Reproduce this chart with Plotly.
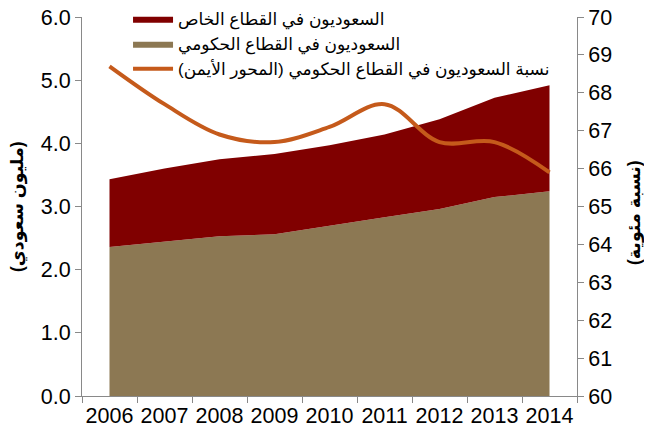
import plotly.graph_objects as go

years = ["2006", "2007", "2008", "2009", "2010", "2011", "2012", "2013", "2014"]
government = [2.36, 2.45, 2.53, 2.56, 2.70, 2.83, 2.96, 3.15, 3.24]
private = [1.07, 1.15, 1.22, 1.27, 1.27, 1.31, 1.42, 1.57, 1.68]
gov_share = [68.7, 67.7, 66.9, 66.7, 67.1, 67.7, 66.7, 66.7, 65.9]

RLM = "\u200f"
name_private = "السعوديون في القطاع الخاص"
name_gov = "السعوديون في القطاع الحكومي"
name_share = RLM + "نسبة السعوديون في القطاع الحكومي (المحور الأيمن)" + RLM
title_left = RLM + "(مليون سعودي)" + RLM
title_right = RLM + "(نسبة مئوية)" + RLM

FONT = "Liberation Sans, Arial, DejaVu Sans, sans-serif"

fig = go.Figure()
fig.add_trace(go.Scatter(
    x=years, y=government, name=name_gov, mode="lines",
    stackgroup="s", line=dict(width=0, color="#8C7853"),
    fillcolor="#8C7853", legendrank=2,
))
fig.add_trace(go.Scatter(
    x=years, y=private, name=name_private, mode="lines",
    stackgroup="s", line=dict(width=0, color="#800000"),
    fillcolor="#800000", legendrank=1,
))
fig.add_trace(go.Scatter(
    x=years, y=gov_share, name=name_share, mode="lines", yaxis="y2",
    line=dict(color="#C55A1B", width=4, shape="spline", smoothing=1.0),
    legendrank=3,
))

axis_common = dict(
    showline=True, linecolor="#898989", linewidth=1,
    ticks="outside", ticklen=6, tickcolor="#898989",
    showgrid=False, zeroline=False,
    tickfont=dict(size=21.5), ticklabeloverflow="allow",
)

# page body has an 8px margin; figure sized to fit the 652x432 window
fig.update_layout(
    width=644, height=424,
    margin=dict(l=74, r=75, t=9, b=36, autoexpand=False),
    paper_bgcolor="white", plot_bgcolor="white",
    font=dict(family=FONT, size=21, color="black"),
    showlegend=True,
    legend=dict(
        x=0.093, y=1.042, xanchor="left", yanchor="top",
        bgcolor="rgba(0,0,0,0)", font=dict(size=17, family=FONT),
        tracegroupgap=0, itemwidth=40, traceorder="normal",
    ),
    xaxis=dict(
        type="category", range=[-0.5, 8.5], tickson="boundaries",
        tickangle=0, **axis_common,
    ),
    yaxis=dict(
        range=[0, 6], dtick=1, tickformat=".1f", **axis_common,
    ),
    yaxis2=dict(
        range=[60, 70], dtick=1, overlaying="y", side="right",
        **axis_common,
    ),
    annotations=[
        dict(text="<b>" + title_left + "</b>", textangle=-90,
             xref="paper", yref="paper", x=-0.129, y=0.499,
             xanchor="center", yanchor="middle", showarrow=False,
             font=dict(size=17.5, family=FONT)),
        dict(text="<b>" + title_right + "</b>", textangle=-90,
             xref="paper", yref="paper", x=1.115, y=0.485,
             xanchor="center", yanchor="middle", showarrow=False,
             font=dict(size=17.5, family=FONT)),
    ],
)

fig.write_html("out.html")
